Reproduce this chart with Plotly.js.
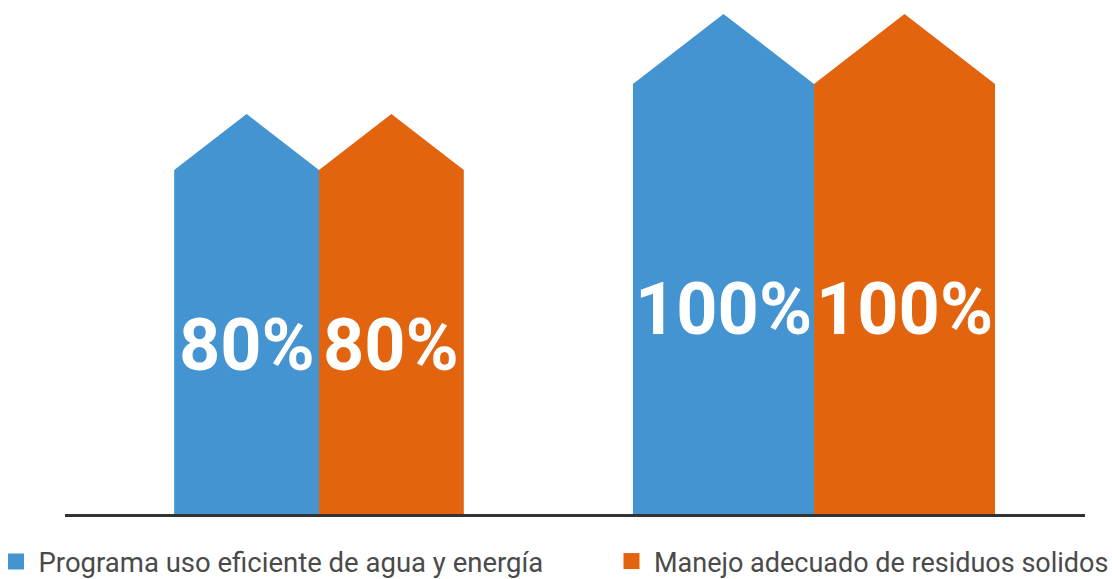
<!DOCTYPE html>
<html><head><meta charset="utf-8">
<script src="https://cdn.plot.ly/plotly-3.0.1.min.js"></script>
<style>html,body{margin:0;padding:0;background:#fff}#chart{width:1112px;height:579px}</style>
</head><body><div id="chart"></div>
<script>
// ---- data ----
const groups = [0, 1];                       // two groups of pictograph bars
const seriesNames = ['Programa uso eficiente de agua y energía', 'Manejo adecuado de residuos solidos'];
const aguaEnergia = [80, 100];
const residuosSolidos = [80, 100];
const seriesColors = ['#4394D0', '#E2640F'];

// ---- geometry (styling) ----
const widthPerUnit = 0.003657;   // bar width (x units) per percent
const shoulder = 0.86;           // rectangle height as fraction of full house height
const labelBase = 5, labelSlope = 0.36;  // label centre position

const allSeries = [aguaEnergia, residuosSolidos];
const traces = [];
const annotations = [];
allSeries.forEach((vals, s) => {
  const xs = [], ys = [];
  vals.forEach((v, i) => {
    const c = groups[i];
    const w = v * widthPerUnit;
    const x0 = s === 0 ? c - w : c;
    const x1 = x0 + w;
    const xm = (x0 + x1) / 2;
    xs.push(x0, x0, xm, x1, x1, x0, null);
    ys.push(0, v * shoulder, v, v * shoulder, 0, 0, null);
    annotations.push({
      x: xm, y: labelBase + labelSlope * v, xref: 'x', yref: 'y', text: v + '%', showarrow: false,
      font: {family: 'Roboto', size: 72, color: '#ffffff', weight: 'bold'},
      xanchor: 'center', yanchor: 'middle'
    });
  });
  traces.push({
    type: 'scatter', x: xs, y: ys, mode: 'lines', fill: 'toself',
    fillcolor: seriesColors[s], line: {width: 0}, hoverinfo: 'skip', showlegend: false
  });
});
// legend entries
seriesNames.forEach((name, s) => {
  traces.push({
    type: 'scatter', x: [null], y: [null], mode: 'markers', name: name,
    marker: {symbol: 'square', size: 16, color: seriesColors[s]},
    legend: s === 0 ? 'legend' : 'legend2', showlegend: true
  });
});

const layout = {
  width: 1112, height: 579,
  margin: {l: 65, r: 27, t: 14, b: 65, autoexpand: false},
  paper_bgcolor: '#ffffff', plot_bgcolor: '#ffffff',
  xaxis: {range: [-0.5131, 1.5475], showgrid: false, zeroline: false, showticklabels: false,
          showline: true, linecolor: '#333333', linewidth: 2.5, ticks: ''},
  yaxis: {range: [0, 100], showgrid: false, zeroline: false, showticklabels: false, showline: false},
  annotations: annotations,
  legend: {xref: 'paper', yref: 'paper', x: -71.5/1020, y: -72/500, xanchor: 'left', yanchor: 'bottom',
           orientation: 'h', itemwidth: 35, font: {family: 'Roboto', size: 27.5, color: '#4a4a4a'}, bgcolor: 'rgba(0,0,0,0)'},
  legend2: {xref: 'paper', yref: 'paper', x: 544/1020, y: -72/500, xanchor: 'left', yanchor: 'bottom',
           orientation: 'h', itemwidth: 35, font: {family: 'Roboto', size: 27, color: '#4a4a4a'}, bgcolor: 'rgba(0,0,0,0)'},
  showlegend: true
};
Plotly.newPlot('chart', traces, layout, {displayModeBar: false, staticPlot: true});
</script></body></html>
